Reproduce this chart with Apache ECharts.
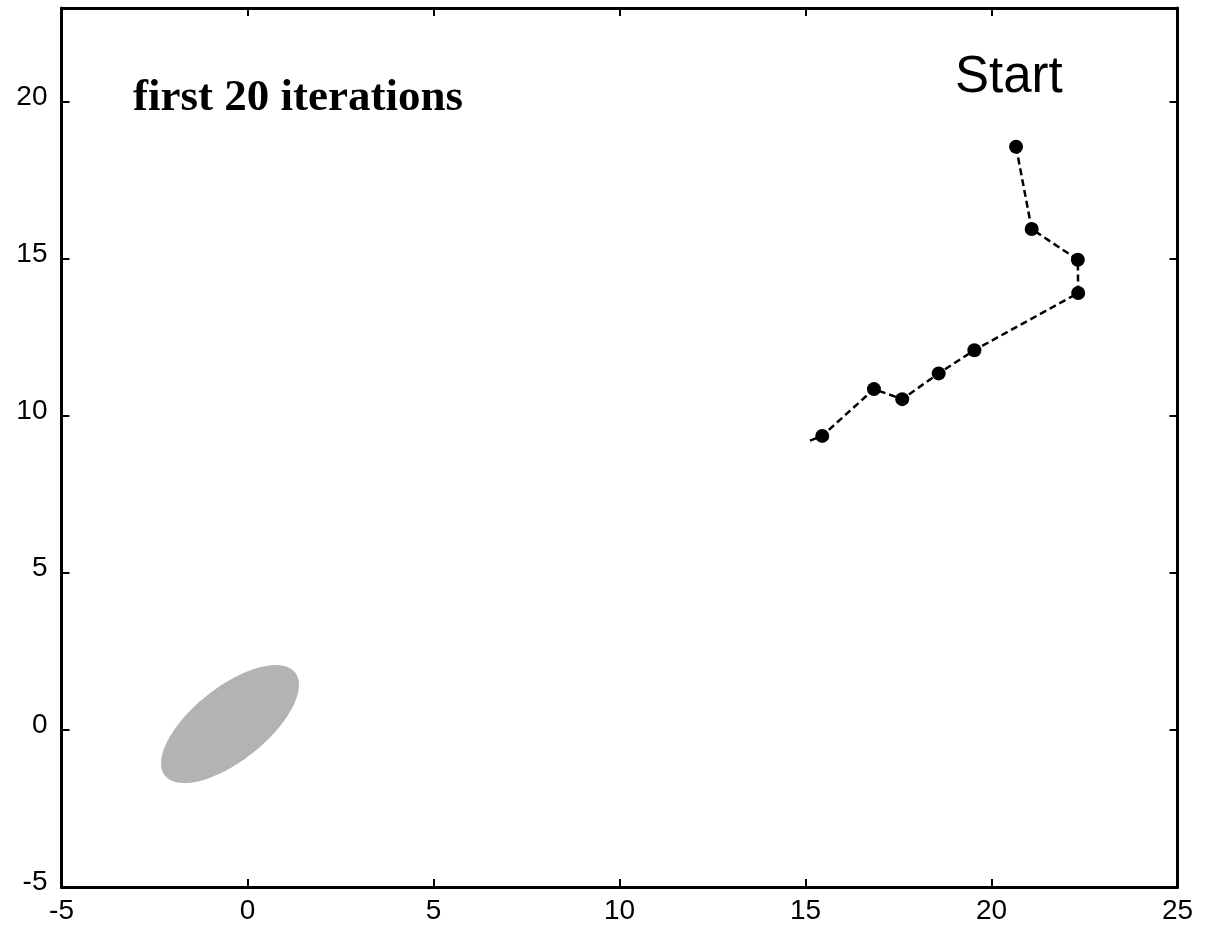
<!DOCTYPE html>
<html>
<head>
<meta charset="utf-8">
<script src="https://cdn.jsdelivr.net/npm/echarts@6/dist/echarts.min.js"></script>
<style>
html,body{margin:0;padding:0;background:#fff;}
#chart{width:1207px;height:925px;}
</style>
</head>
<body>
<div id="chart"></div>
<script>
// Iteration path (start at top right)
const pathX = [20.66, 21.08, 22.32, 22.33, 19.54, 18.58, 17.60, 16.84, 15.45];
const pathY = [18.58, 15.96, 14.98, 13.92, 12.10, 11.36, 10.54, 10.86, 9.37];
// Where the dashed line trails off (no marker)
const tailPoint = [15.03, 9.18];
// Grey ellipse: centre and two half-axis vectors (data units)
const ellipseCenter = [-0.47, 0.19];
const ellipseAxisA = [1.75, 1.64];
const ellipseAxisB = [0.61, -0.92];
const xTicks = [-5, 0, 5, 10, 15, 20, 25];
const yTicks = [-5, 0, 5, 10, 15, 20];
const titleText = 'first 20 iterations';
const startText = 'Start';

const chart = echarts.init(document.getElementById('chart'), null, {renderer: 'canvas'});

const pathData = pathX.map((x, i) => [x, pathY[i]]);
pathData.push({value: tailPoint, symbol: 'none'});

const axisLineStyle = {show: true, onZero: false, lineStyle: {color: '#000', width: 3}};
const labelStyle = {color: '#000', fontFamily: 'Liberation Sans, Arial, sans-serif', fontSize: 28};

function xAxisDef(pos, showLabel) {
  return {
    type: 'value', position: pos, min: -5, max: 25, interval: 5,
    axisLine: axisLineStyle,
    axisTick: {show: true, inside: true, length: 8, lineStyle: {color: '#000', width: 2}, customValues: xTicks},
    axisLabel: Object.assign({show: showLabel, margin: 10, customValues: xTicks}, labelStyle),
    splitLine: {show: false}
  };
}
function yAxisDef(pos, showLabel) {
  return {
    type: 'value', position: pos, min: -5, max: 23, interval: 5,
    axisLine: axisLineStyle,
    axisTick: {show: true, inside: true, length: 8, lineStyle: {color: '#000', width: 2}, customValues: yTicks},
    axisLabel: Object.assign({show: showLabel, margin: 14, verticalAlign: 'bottom', lineHeight: 10, customValues: yTicks}, labelStyle),
    splitLine: {show: false}
  };
}

const option = {
  animation: false,
  backgroundColor: '#fff',
  grid: {left: 61.5, right: 29.5, top: 8, bottom: 37, containLabel: false},
  xAxis: [xAxisDef('bottom', true), xAxisDef('top', false)],
  yAxis: [yAxisDef('left', true), yAxisDef('right', false)],
  series: [
    {
      type: 'custom',
      xAxisIndex: 0, yAxisIndex: 0,
      data: [ellipseCenter.concat(ellipseAxisA, ellipseAxisB)],
      renderItem: function (params, api) {
        const cx = api.value(0), cy = api.value(1);
        const ax = api.value(2), ay = api.value(3);
        const bx = api.value(4), by = api.value(5);
        const pts = [];
        const n = 120;
        for (let i = 0; i < n; i++) {
          const t = 2 * Math.PI * i / n;
          pts.push(api.coord([cx + ax * Math.cos(t) + bx * Math.sin(t), cy + ay * Math.cos(t) + by * Math.sin(t)]));
        }
        return {type: 'polygon', shape: {points: pts}, style: {fill: '#b3b3b3', stroke: null}};
      },
      silent: true, z: 1
    },
    {
      type: 'line',
      xAxisIndex: 0, yAxisIndex: 0,
      data: pathData,
      symbol: 'circle', symbolSize: 14,
      itemStyle: {color: '#000'},
      lineStyle: {color: '#000', width: 2.5, type: [7, 4]},
      z: 3
    }
  ],
  graphic: [
    {type: 'text', left: 133, top: 76, style: {text: titleText, font: 'bold 45px "Liberation Serif", "Times New Roman", serif', fill: '#000'}},
    {type: 'text', left: 955, top: 52, style: {text: startText, font: '51px "Liberation Sans", Arial, sans-serif', fill: '#000'}}
  ]
};
chart.setOption(option);
</script>
</body>
</html>
